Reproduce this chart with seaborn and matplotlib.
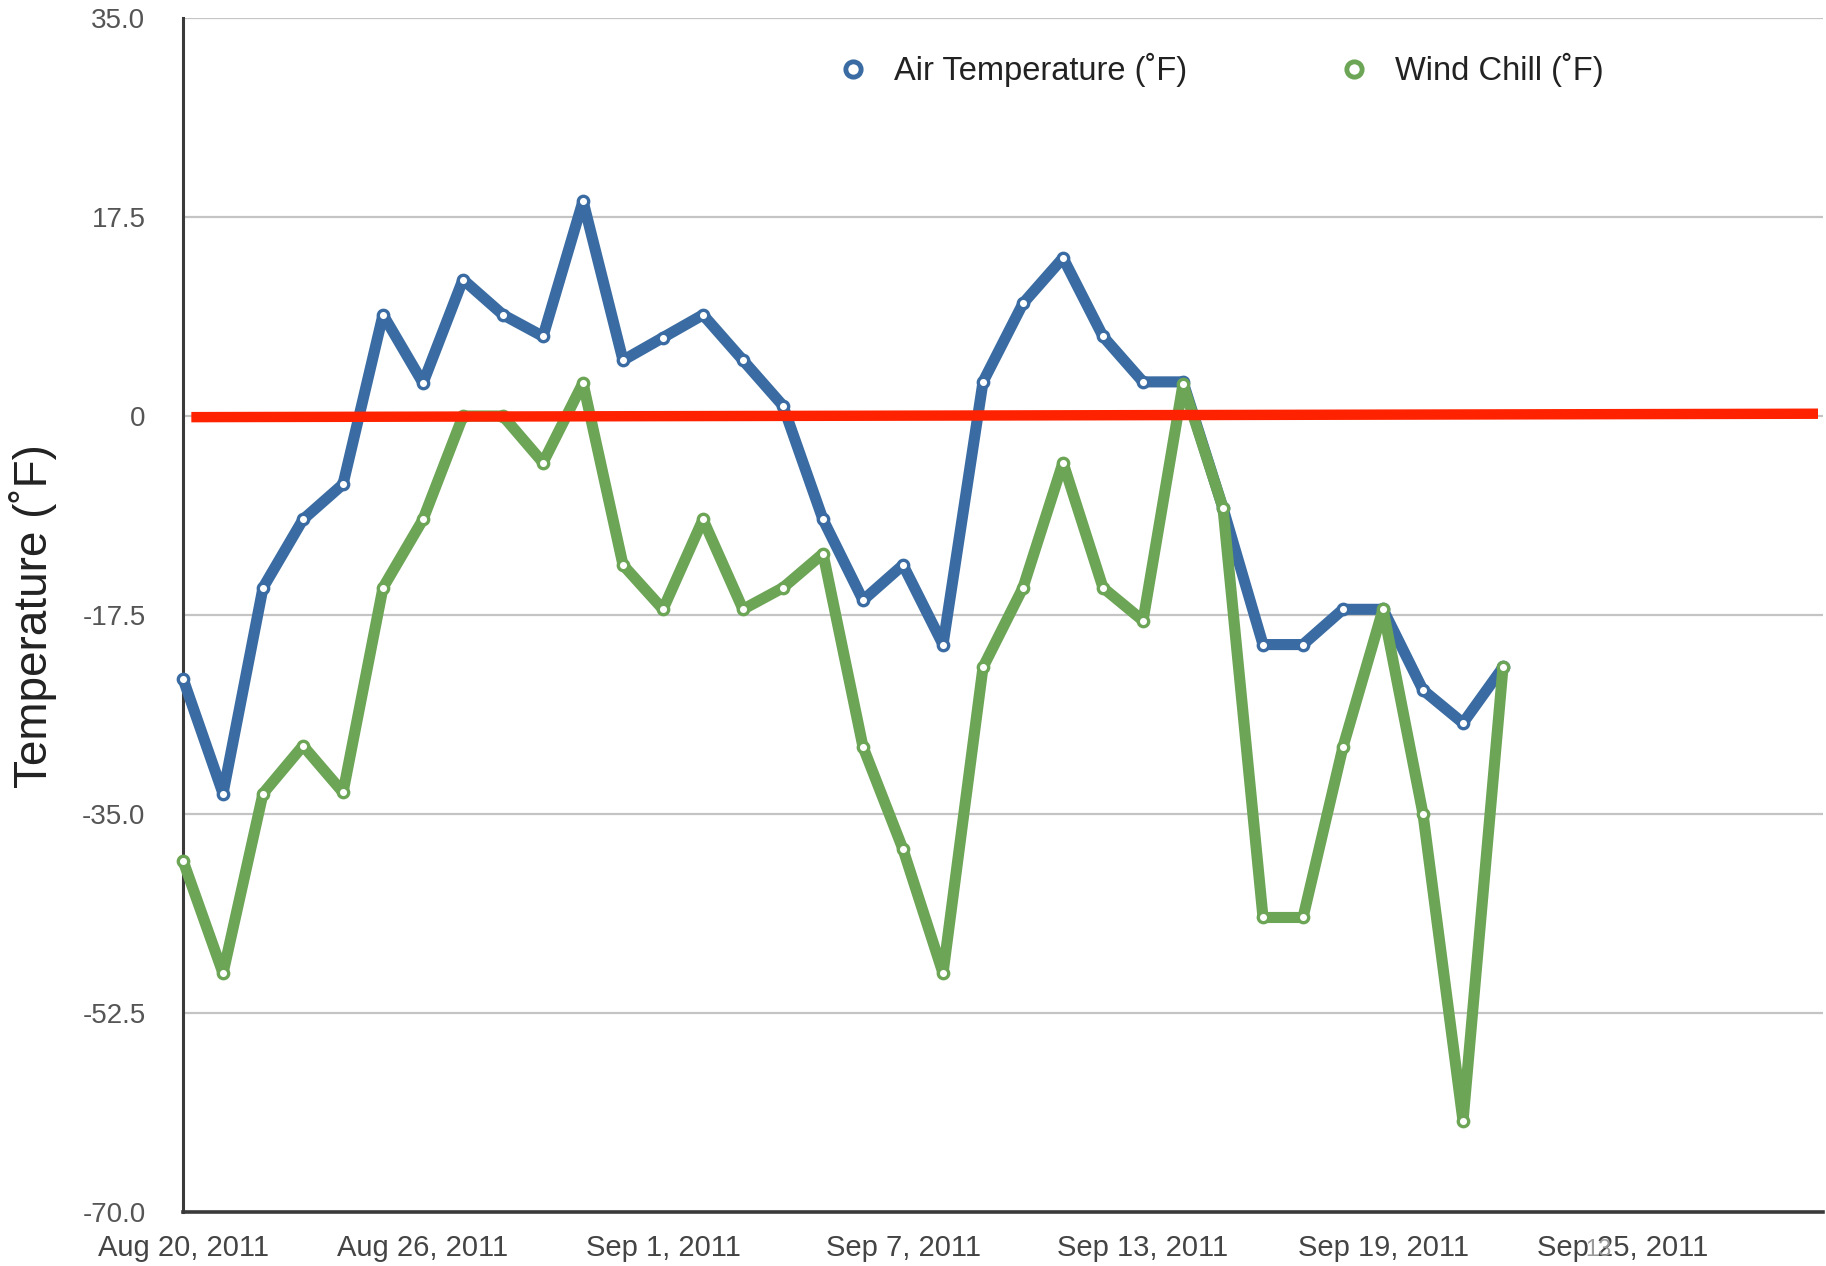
import pandas as pd
import matplotlib
matplotlib.use("Agg")
import matplotlib.pyplot as plt
from matplotlib.lines import Line2D
import seaborn as sns

# ============================================
# DATA
# ============================================

start_date = "2011-08-20"

air_temperature = [
    -23.1, -33.2, -15.1, -9.1, -6.0, 8.9, 2.9, 12.0, 8.9, 7.0,
    18.9, 4.9, 6.9, 8.9, 4.9, 0.9, -9.1, -16.2, -13.1, -20.1,
    3.0, 9.9, 13.9, 7.0, 3.0, 3.0, -8.1, -20.1, -20.1, -17.0,
    -17.0, -24.1, -27.0, -22.1
]

wind_chill = [
    -39.1, -49.0, -33.2, -29.0, -33.1, -15.1, -9.1, 0.0, 0.0, -4.1,
    2.9, -13.1, -17.0, -9.1, -17.0, -15.1, -12.1, -29.1, -38.1, -49.0,
    -22.1, -15.1, -4.1, -15.1, -18.0, 2.8, -8.1, -44.1, -44.1, -29.1,
    -17.0, -35.0, -62.0, -22.1
]

y_ticks = [-70.0, -52.5, -35.0, -17.5, 0, 17.5, 35.0]
y_tick_labels = ["-70.0", "-52.5", "-35.0", "-17.5", "0", "17.5", "35.0"]

x_tick_dates = ["2011-08-20", "2011-08-26", "2011-09-01", "2011-09-07",
                "2011-09-13", "2011-09-19", "2011-09-25"]
x_tick_labels = ["Aug 20, 2011", "Aug 26, 2011", "Sep 1, 2011", "Sep 7, 2011",
                 "Sep 13, 2011", "Sep 19, 2011", "Sep 25, 2011"]

x_limits = ["2011-08-20", "2011-09-30"]

# hand-drawn red freezing line (slightly tilted in the original)
freeze_x = ["2011-08-20 05:00", "2011-09-29 21:00"]
freeze_y = [-0.1, 0.2]

# ============================================
# BUILD DATAFRAME
# ============================================

dates = pd.date_range(start_date, periods=len(air_temperature), freq="D")

df = pd.DataFrame({
    "Date": dates,
    "AirTemperature": air_temperature,
    "WindChill": wind_chill
})

blue = "#3a6ca3"
green = "#6ca555"
red = "#ff2200"

# ============================================
# STYLE
# ============================================

sns.set_style("white")
plt.rcParams["font.family"] = ["Liberation Sans", "DejaVu Sans"]

fig = plt.figure(figsize=(18.26, 12.66), dpi=100)
ax = fig.add_axes([183 / 1826, 1 - 1212 / 1266, 1640 / 1826, 1194 / 1266])

# ============================================
# LINES
# ============================================

line_style = dict(
    linewidth=8,
    marker="o",
    markersize=7.5,
    markerfacecolor="white",
    markeredgewidth=2.4,
    clip_on=False,
    zorder=3
)

sns.lineplot(
    data=df, x="Date", y="AirTemperature", ax=ax,
    color=blue, markeredgecolor=blue, **line_style
)

sns.lineplot(
    data=df, x="Date", y="WindChill", ax=ax,
    color=green, markeredgecolor=green, **line_style
)

# red zero line drawn over the chart
ax.plot(pd.to_datetime(freeze_x), freeze_y, color=red,
        linewidth=7.5, solid_capstyle="butt", zorder=5, clip_on=False)

# ============================================
# AXES
# ============================================

ax.set_ylim(-70, 35)
ax.set_xlim(pd.to_datetime(x_limits[0]), pd.to_datetime(x_limits[1]))

ax.set_yticks(y_ticks)
ax.set_yticklabels(y_tick_labels)
ax.set_xticks(pd.to_datetime(x_tick_dates))
ax.set_xticklabels(x_tick_labels)

ax.yaxis.grid(True, color="#c4c4c4", linewidth=1.6)
ax.xaxis.grid(False)
ax.set_axisbelow(True)

ax.tick_params(axis="y", length=0, pad=27, labelsize=20, labelcolor="#555555")
ax.tick_params(axis="x", length=0, pad=16, labelsize=21, labelcolor="#444444")

for side in ["top", "right"]:
    ax.spines[side].set_visible(False)
ax.spines["left"].set_color("#3a3a3a")
ax.spines["left"].set_linewidth(2.2)
ax.spines["bottom"].set_color("#3a3a3a")
ax.spines["bottom"].set_linewidth(2.6)

ax.set_xlabel("")
ax.set_ylabel("Temperature (˚F)", fontsize=33, color="#222222")
ax.yaxis.set_label_coords(-0.077, 0.499)

# ============================================
# LEGEND
# ============================================

handles = [
    Line2D([], [], linestyle="none", marker="o", markersize=11,
           markerfacecolor="white", markeredgecolor=blue, markeredgewidth=3.5),
    Line2D([], [], linestyle="none", marker="o", markersize=11,
           markerfacecolor="white", markeredgecolor=green, markeredgewidth=3.5),
]

ax.legend(
    handles,
    ["Air Temperature (˚F)", "Wind Chill (˚F)"],
    loc="center left",
    bbox_to_anchor=(837 / 1826, 1 - 70 / 1266),
    bbox_transform=fig.transFigure,
    ncol=2,
    frameon=False,
    fontsize=23.5,
    handlelength=1.0,
    handletextpad=0.76,
    columnspacing=4.6,
    borderpad=0,
    borderaxespad=0,
    labelcolor="#222222"
)

# slide number left over in the original screenshot
fig.text(1598 / 1826, 1 - 1250 / 1266, "13", fontsize=17, color="#9a9a9a",
         ha="center", va="center")

plt.savefig("out.png", dpi=100)
plt.close()
